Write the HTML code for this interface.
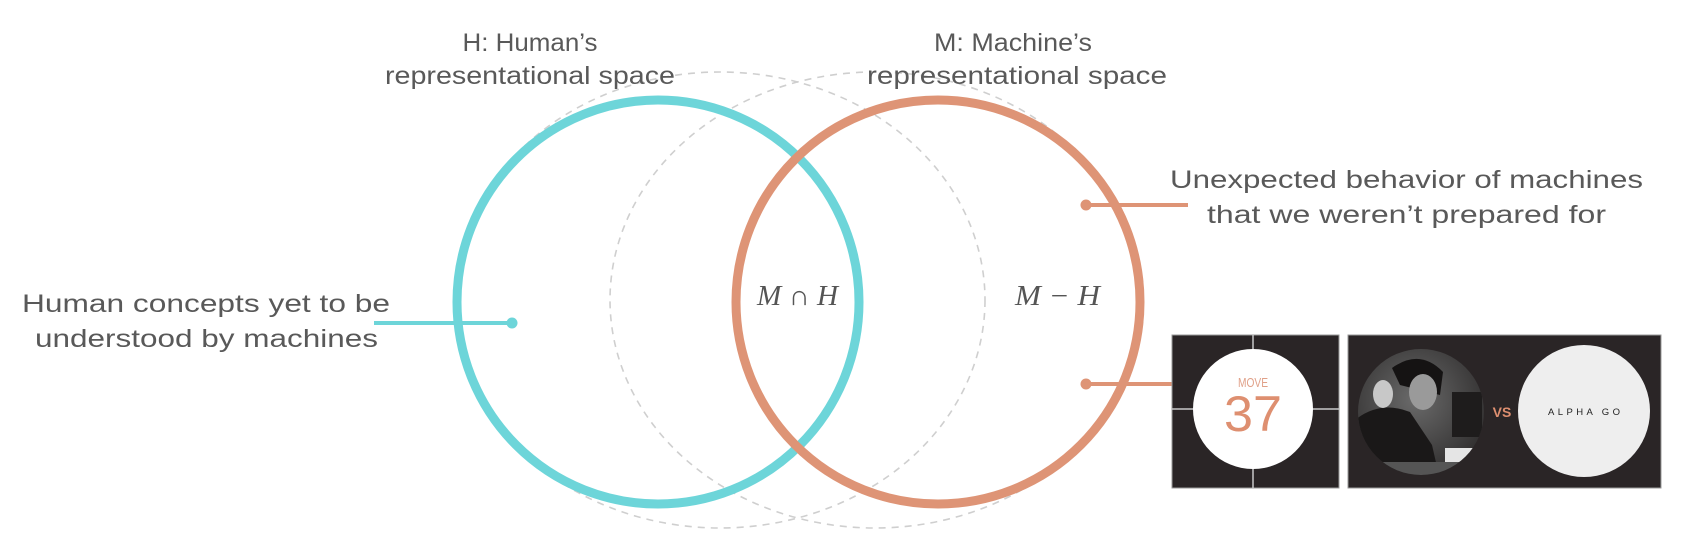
<!DOCTYPE html>
<html><head><meta charset="utf-8"><style>
html,body{margin:0;padding:0;background:#fff;}
svg{display:block;}
</style></head><body>
<svg width="1689" height="547" viewBox="0 0 1689 547" xmlns="http://www.w3.org/2000/svg">
<defs>
  <mask id="mA"><rect width="1689" height="547" fill="#fff"/><ellipse cx="658" cy="302" rx="200" ry="200" fill="#000"/></mask>
  <mask id="mB"><rect width="1689" height="547" fill="#fff"/><ellipse cx="938" cy="302" rx="200" ry="200" fill="#000"/></mask>
  <clipPath id="pc"><circle cx="1421" cy="412" r="63"/></clipPath>
  <radialGradient id="pg" cx="0.45" cy="0.4" r="0.7">
    <stop offset="0" stop-color="#6a6a6a"/><stop offset="1" stop-color="#2a2828"/>
  </radialGradient>
</defs>

<!-- dashed ellipses -->
<ellipse cx="720" cy="300" rx="265" ry="228" fill="none" stroke="#cfcfcf" stroke-width="1.6" stroke-dasharray="7 6" mask="url(#mA)"/>
<ellipse cx="875" cy="300" rx="265" ry="228" fill="none" stroke="#cfcfcf" stroke-width="1.6" stroke-dasharray="7 6" mask="url(#mB)"/>

<!-- main circles -->
<ellipse cx="658" cy="302" rx="201" ry="202" fill="none" stroke="#6dd5d9" stroke-width="9"/>
<ellipse cx="938" cy="302" rx="202" ry="202" fill="none" stroke="#de9476" stroke-width="9"/>

<!-- connectors -->
<line x1="374" y1="323" x2="512" y2="323" stroke="#6dd5d9" stroke-width="4"/>
<circle cx="512" cy="323" r="5.5" fill="#6dd5d9"/>
<line x1="1086" y1="205" x2="1188" y2="205" stroke="#de9476" stroke-width="4"/>
<circle cx="1086" cy="205" r="5.5" fill="#de9476"/>
<line x1="1086" y1="384" x2="1173" y2="384" stroke="#de9476" stroke-width="4"/>
<circle cx="1086" cy="384" r="5.5" fill="#de9476"/>

<!-- labels -->
<g font-family="Liberation Sans, sans-serif" font-size="25" fill="#595959">
  <text x="530" y="51" text-anchor="middle" textLength="135" lengthAdjust="spacingAndGlyphs">H: Human’s</text>
  <text x="530" y="84" text-anchor="middle" textLength="290" lengthAdjust="spacingAndGlyphs">representational space</text>
  <text x="1013" y="51" text-anchor="middle" textLength="158" lengthAdjust="spacingAndGlyphs">M: Machine’s</text>
  <text x="1017" y="84" text-anchor="middle" textLength="300" lengthAdjust="spacingAndGlyphs">representational space</text>
  <text x="22" y="312" textLength="368" lengthAdjust="spacingAndGlyphs">Human concepts yet to be</text>
  <text x="35" y="347" textLength="343" lengthAdjust="spacingAndGlyphs">understood by machines</text>
  <text x="1170" y="188" textLength="473" lengthAdjust="spacingAndGlyphs">Unexpected behavior of machines</text>
  <text x="1207" y="223" textLength="399" lengthAdjust="spacingAndGlyphs">that we weren’t prepared for</text>
</g>
<g font-family="Liberation Serif, serif" font-size="28" font-style="italic" fill="#555">
  <text x="757" y="305" textLength="81" lengthAdjust="spacingAndGlyphs">M ∩ H</text>
  <text x="1015" y="305" textLength="85" lengthAdjust="spacingAndGlyphs">M − H</text>
</g>

<!-- box 1: move 37 -->
<rect x="1172" y="335" width="167" height="153" fill="#2a2526" stroke="#9a9a9a" stroke-width="1"/>
<line x1="1253" y1="335" x2="1253" y2="488" stroke="#c8c8c8" stroke-width="1.5"/>
<line x1="1172" y1="409" x2="1339" y2="409" stroke="#c8c8c8" stroke-width="1.5"/>
<circle cx="1253" cy="409" r="60" fill="#fff"/>
<text x="1253" y="387" text-anchor="middle" font-family="Liberation Sans, sans-serif" font-size="13" fill="#e0a088" textLength="30" lengthAdjust="spacingAndGlyphs">MOVE</text>
<text x="1253" y="431" text-anchor="middle" font-family="Liberation Sans, sans-serif" font-size="50" fill="#de8f70" textLength="58" lengthAdjust="spacingAndGlyphs">37</text>

<!-- box 2: vs alphago -->
<rect x="1348" y="335" width="313" height="153" fill="#2a2526" stroke="#9a9a9a" stroke-width="1"/>
<circle cx="1421" cy="412" r="63" fill="url(#pg)"/>
<g clip-path="url(#pc)">
  <rect x="1452" y="392" width="30" height="45" fill="#1e1c1c"/>
  <path d="M1355 420 Q1380 400 1410 412 L1432 445 L1440 480 L1355 480 Z" fill="#1a1818"/>
  <path d="M1392 368 Q1420 348 1443 372 L1440 395 L1400 385 Z" fill="#151313"/>
  <ellipse cx="1423" cy="392" rx="14" ry="18" fill="#9a9a9a"/>
  <ellipse cx="1383" cy="394" rx="10" ry="14" fill="#c8c8c8"/>
  <rect x="1445" y="448" width="30" height="14" fill="#e5e5e5"/>
  <rect x="1355" y="462" width="130" height="20" fill="#555"/>
</g>
<text x="1502" y="417" text-anchor="middle" font-family="Liberation Sans, sans-serif" font-size="14" font-weight="bold" fill="#de8f70">VS</text>
<circle cx="1584" cy="411" r="66" fill="#eeeeee"/>
<text x="1584" y="415" text-anchor="middle" font-family="Liberation Sans, sans-serif" font-size="9.5" fill="#222" textLength="72" lengthAdjust="spacing">ALPHA GO</text>
</svg>
</body></html>
